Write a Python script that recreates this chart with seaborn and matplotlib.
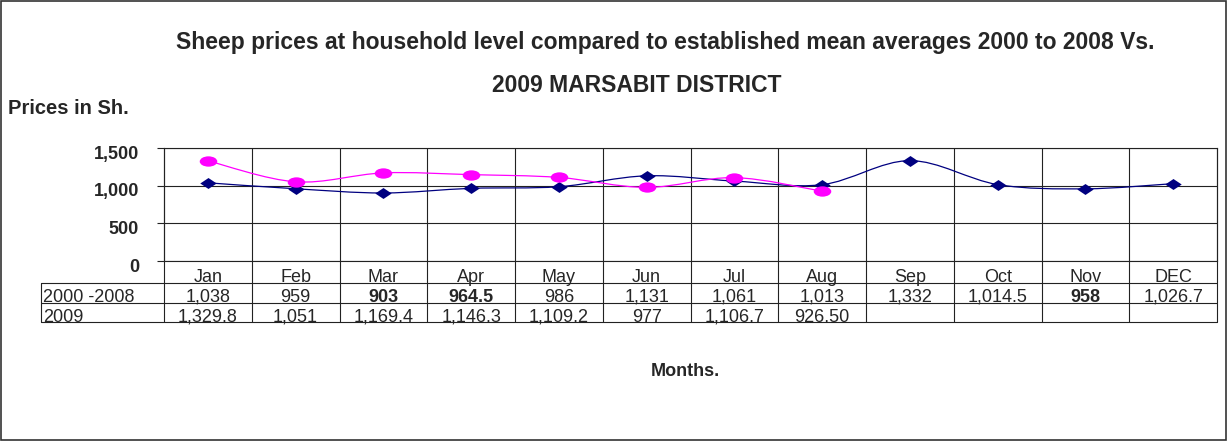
import numpy as np
import pandas as pd
import matplotlib
matplotlib.use("Agg")
import matplotlib.pyplot as plt
import seaborn as sns
from matplotlib.path import Path
from matplotlib.patches import PathPatch, Rectangle
from matplotlib.ticker import FuncFormatter
from matplotlib.transforms import ScaledTranslation

# data
months = ["Jan", "Feb", "Mar", "Apr", "May", "Jun", "Jul", "Aug", "Sep", "Oct", "Nov", "DEC"]
avg_2000_2008 = [1038, 959, 903, 964.5, 986, 1131, 1061, 1013, 1332, 1014.5, 958, 1026.7]
avg_labels = ["1,038", "959", "903", "964.5", "986", "1,131", "1,061", "1,013", "1,332", "1,014.5", "958", "1,026.7"]
bold_months = ["Mar", "Apr", "Nov"]
prices_2009 = [1329.8, 1051, 1169.4, 1146.3, 1109.2, 977, 1106.7, 926.5]
labels_2009 = ["1,329.8", "1,051", "1,169.4", "1,146.3", "1,109.2", "977", "1,106.7", "926.50"]
row_names = ["2000 -2008", "2009"]

NAVY = "#000080"
MAGENTA = "#FF00FF"
GRID = "#222222"

sns.set_style("white")
plt.rcParams["font.family"] = ["Liberation Sans", "DejaVu Sans"]

W, H = 1228, 443
fig = plt.figure(figsize=(W / 100, H / 100), dpi=100)


def fx(px):
    return px / W


def fy(py):
    return 1 - py / H


# plot area in pixels
x0, x1, ytop, ybot = 164, 1217, 148, 261
ax = fig.add_axes([fx(x0), fy(ybot), (x1 - x0) / W, (ybot - ytop) / H])


def ay(py):
    # pixel row -> axes fraction
    return (ybot - py) / (ybot - ytop)


def axx(px):
    return (px - x0) / (x1 - x0)


df_avg = pd.DataFrame({"x": np.arange(len(months)), "price": avg_2000_2008})
df_09 = pd.DataFrame({"x": np.arange(len(prices_2009)), "price": prices_2009})


def smooth_path(xs, ys):
    # Catmull-Rom style smoothing rendered as cubic bezier
    pts = np.column_stack([xs, ys]).astype(float)
    verts = [pts[0]]
    codes = [Path.MOVETO]
    n = len(pts)
    for i in range(n - 1):
        p0 = pts[max(i - 1, 0)]
        p1 = pts[i]
        p2 = pts[i + 1]
        p3 = pts[min(i + 2, n - 1)]
        c1 = p1 + (p2 - p0) / 6
        c2 = p2 - (p3 - p1) / 6
        verts += [c1, c2, p2]
        codes += [Path.CURVE4] * 3
    return Path(verts, codes)


diamond = Path([(0, 1), (1.5, 0), (0, -1), (-1.5, 0), (0, 1)],
               [Path.MOVETO, Path.LINETO, Path.LINETO, Path.LINETO, Path.CLOSEPOLY])
uc = Path.unit_circle()
ellipse = Path(uc.vertices * np.array([1.7, 1.0]), uc.codes)

ax.add_patch(PathPatch(smooth_path(df_avg["x"], df_avg["price"]), fill=False,
                       edgecolor=NAVY, lw=0.9, zorder=3))
sns.scatterplot(data=df_avg, x="x", y="price", marker=diamond, s=140, color=NAVY,
                edgecolor=NAVY, linewidth=0, ax=ax, zorder=4)
ax.add_patch(PathPatch(smooth_path(df_09["x"], df_09["price"]), fill=False,
                       edgecolor=MAGENTA, lw=0.9, zorder=5))
sns.scatterplot(data=df_09, x="x", y="price", marker=ellipse, s=160, color=MAGENTA,
                edgecolor=MAGENTA, linewidth=0, ax=ax, zorder=6)

ax.set_xlim(-0.5, len(months) - 0.5)
ax.set_ylim(0, 1500)
ax.set_yticks([0, 500, 1000, 1500])
ax.yaxis.set_major_formatter(FuncFormatter(lambda v, _: f"{v:,.0f}"))
ax.set_xticks([])
ax.set_xlabel("")
ax.set_ylabel("")
ax.yaxis.grid(True, color=GRID, lw=0.8)
ax.set_axisbelow(True)
for sp in ax.spines.values():
    sp.set_color(GRID)
    sp.set_linewidth(0.8)
ax.tick_params(axis="y", left=True, length=5, width=0.8, color=GRID, pad=13, labelsize=13)
for lab in ax.get_yticklabels():
    lab.set_fontweight("bold")
    lab.set_transform(lab.get_transform() + ScaledTranslation(0, -0.04, fig.dpi_scale_trans))

# table grid under the plot
tab_left, row1, row2, row3 = 41, 283, 303, 322
for b in np.arange(len(months) + 1) - 0.5:
    ax.axvline(b, ymin=ay(row3), ymax=1, color=GRID, lw=0.8, clip_on=False)
for py in [row1, row2, row3]:
    ax.plot([axx(tab_left), 1], [ay(py), ay(py)], transform=ax.transAxes,
            color=GRID, lw=0.8, clip_on=False)
ax.plot([axx(tab_left), axx(tab_left)], [ay(row1), ay(row3)], transform=ax.transAxes,
        color=GRID, lw=0.8, clip_on=False)

tr = ax.get_xaxis_transform()
for i, m in enumerate(months):
    ax.text(i, ay(row1 - 1.5), m, transform=tr, ha="center", va="baseline", fontsize=13)
    ax.text(i, ay(row2 - 1), avg_labels[i], transform=tr, ha="center", va="baseline",
            fontsize=13, fontweight="bold" if m in bold_months else "normal")
for i, lab in enumerate(labels_2009):
    ax.text(i, ay(row3 - 0.5), lab, transform=tr, ha="center", va="baseline", fontsize=13)
ax.text(axx(tab_left + 2), ay(row2 - 1), row_names[0], transform=ax.transAxes,
        ha="left", va="baseline", fontsize=13)
ax.text(axx(tab_left + 2), ay(row3 - 0.5), row_names[1], transform=ax.transAxes,
        ha="left", va="baseline", fontsize=13)

# titles and axis captions
fig.text(fx(665), fy(43), "Sheep prices at household level compared to established mean averages 2000 to 2008 Vs.",
         ha="center", va="center", fontsize=16.5, fontweight="bold")
fig.text(fx(637), fy(86), "2009 MARSABIT DISTRICT", ha="center", va="center",
         fontsize=16.5, fontweight="bold")
fig.text(fx(8), fy(109), "Prices in Sh.", ha="left", va="center", fontsize=14.5, fontweight="bold")
fig.text(fx(685), fy(372), "Months.", ha="center", va="center", fontsize=13, fontweight="bold")

fig.add_artist(Rectangle((fx(1), fy(440)), fx(1225), (439) / H, transform=fig.transFigure,
                         fill=False, edgecolor="#333333", lw=1.2))

fig.savefig("out.png", dpi=100, facecolor="white")
